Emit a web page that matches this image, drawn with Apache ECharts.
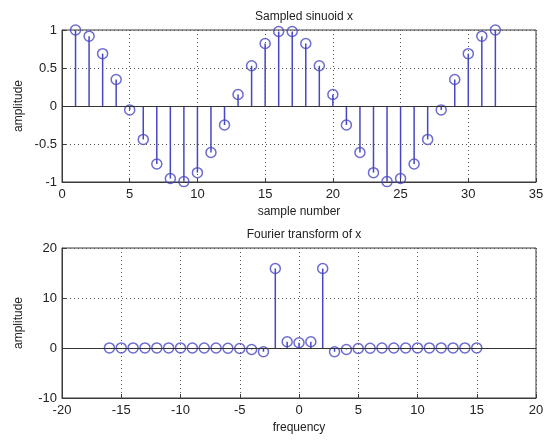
<!DOCTYPE html>
<html>
<head>
<meta charset="utf-8">
<script src="https://cdn.jsdelivr.net/npm/echarts@6/dist/echarts.min.js"></script>
<style>
  html, body { margin: 0; padding: 0; background: #fff; }
  #chart { width: 544px; height: 442px; }
</style>
</head>
<body>
<div id="chart"></div>
<script>
// Sampled sinusoid: sample index and amplitude
const sampleNumbers = [1,2,3,4,5,6,7,8,9,10,11,12,13,14,15,16,17,18,19,20,21,22,23,24,25,26,27,28,29,30,31,32];
const sampleValues = [1.0, 0.919, 0.689, 0.349, -0.051, -0.440, -0.763, -0.954, -0.995, -0.877, -0.612, -0.250,
  0.151, 0.529, 0.822, 0.980, 0.980, 0.822, 0.529, 0.151, -0.250, -0.612, -0.877, -0.995,
  -0.954, -0.763, -0.440, -0.051, 0.349, 0.689, 0.919, 1.0];

// Fourier transform (real part), shifted frequency bins
const frequencies = [-16,-15,-14,-13,-12,-11,-10,-9,-8,-7,-6,-5,-4,-3,-2,-1,0,1,2,3,4,5,6,7,8,9,10,11,12,13,14,15];
const spectrumValues = [0.02, 0.02, 0.02, 0.02, 0.02, 0.02, 0.02, 0.0, 0.0, 0.0, -0.05, -0.1, -0.3, -0.75, 15.9, 1.25,
  1.05, 1.25, 15.9, -0.75, -0.3, -0.1, -0.05, 0.0, 0.0, 0.0, 0.02, 0.02, 0.02, 0.02, 0.02, 0.02];

// Axis ticks
const topXTicks = [0, 35, 5];
const topYTicks = [-1, 1, 0.5];
const bottomXTicks = [-20, 20, 5];
const bottomYTicks = [-10, 20, 10];

const stemColor = '#4747c4';
const axisColor = '#3a3a3a';
const textFont = '"Liberation Sans", Arial, sans-serif';

function pairs(xs, ys) { return xs.map((x, i) => [x, ys[i]]); }

function stemItem(params, api) {
  const base = api.coord([api.value(0), 0]);
  const tip = api.coord([api.value(0), api.value(1)]);
  return {
    type: 'line',
    shape: { x1: base[0], y1: base[1], x2: tip[0], y2: tip[1] },
    style: { stroke: stemColor, lineWidth: 1.5 }
  };
}

function xAxis(gridIndex, t, name) {
  return {
    type: 'value', gridIndex, min: t[0], max: t[1], interval: t[2],
    name, nameLocation: 'middle', nameGap: 24, nameMoveOverlap: false,
    nameTextStyle: { color: '#222', fontSize: 12, fontFamily: textFont },
    axisLine: { show: true, onZero: false, lineStyle: { color: axisColor, width: 1 } },
    axisTick: { show: true, inside: true, length: 4, lineStyle: { color: axisColor } },
    axisLabel: { color: '#222', fontSize: 13, fontFamily: textFont, margin: 6 },
    splitLine: { show: true, lineStyle: { color: '#555', type: [1, 3], width: 1 } }
  };
}

function yAxis(gridIndex, t, name) {
  return {
    type: 'value', gridIndex, min: t[0], max: t[1], interval: t[2],
    name, nameLocation: 'middle', nameGap: 37, nameMoveOverlap: false,
    nameTextStyle: { color: '#222', fontSize: 12, fontFamily: textFont },
    axisLine: { show: true, onZero: false, lineStyle: { color: axisColor, width: 1 } },
    axisTick: { show: true, inside: true, length: 4, lineStyle: { color: axisColor } },
    axisLabel: { color: '#222', fontSize: 13, fontFamily: textFont, margin: 5 },
    splitLine: { show: true, lineStyle: { color: '#555', type: [1, 3], width: 1 } }
  };
}

function seriesFor(idx, data) {
  return [
    {
      type: 'custom', xAxisIndex: idx, yAxisIndex: idx, data,
      renderItem: stemItem, silent: true, z: 3
    },
    {
      type: 'scatter', xAxisIndex: idx, yAxisIndex: idx, data,
      symbol: 'circle', symbolSize: 10,
      itemStyle: { color: 'rgba(0,0,0,0)', borderColor: stemColor, borderWidth: 1.5 },
      markLine: {
        silent: true, symbol: 'none', label: { show: false },
        lineStyle: { color: '#333', type: 'solid', width: 1.2 },
        data: [{ yAxis: 0 }]
      },
      z: 4
    }
  ];
}

const chart = echarts.init(document.getElementById('chart'), null, { renderer: 'canvas' });
chart.setOption({
  backgroundColor: '#ffffff',
  animation: false,
  title: [
    { text: 'Sampled sinuoid x', left: 299, top: 6, textAlign: 'center',
      textStyle: { fontSize: 12, fontWeight: 'normal', color: '#222', fontFamily: textFont } },
    { text: 'Fourier transform of x', left: 299, top: 224, textAlign: 'center',
      textStyle: { fontSize: 12, fontWeight: 'normal', color: '#222', fontFamily: textFont } }
  ],
  grid: [
    { left: 62, top: 30, width: 474, height: 152, show: true, borderColor: axisColor, borderWidth: 1,
      backgroundColor: '#fff', outerBoundsMode: 'none' },
    { left: 62, top: 248, width: 474, height: 150, show: true, borderColor: axisColor, borderWidth: 1,
      backgroundColor: '#fff', outerBoundsMode: 'none' }
  ],
  xAxis: [xAxis(0, topXTicks, 'sample number'), xAxis(1, bottomXTicks, 'frequency')],
  yAxis: [yAxis(0, topYTicks, 'amplitude'), yAxis(1, bottomYTicks, 'amplitude')],
  series: [
    ...seriesFor(0, pairs(sampleNumbers, sampleValues)),
    ...seriesFor(1, pairs(frequencies, spectrumValues))
  ]
});
</script>
</body>
</html>
